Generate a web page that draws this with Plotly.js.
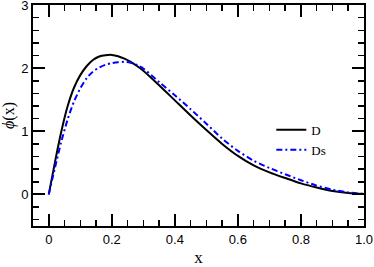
<!DOCTYPE html>
<html><head><meta charset="utf-8">
<script src="https://cdn.plot.ly/plotly-3.0.1.min.js"></script>
<style>html,body{margin:0;padding:0;background:#fff}#c{width:374px;height:267px}</style>
</head><body><div id="c"></div>
<script>
const xD = [0,0.02,0.04,0.06,0.08,0.10,0.12,0.14,0.16,0.18,0.20,0.22,0.24,0.26,0.28,0.30,0.35,0.40,0.45,0.50,0.55,0.60,0.65,0.70,0.75,0.80,0.85,0.90,0.95,1.0];
const yD = [0,0.52,1.00,1.40,1.69,1.89,2.03,2.13,2.185,2.205,2.21,2.19,2.15,2.10,2.035,1.96,1.73,1.49,1.25,1.02,0.80,0.61,0.46,0.35,0.26,0.175,0.11,0.055,0.022,0.005];
const xDs = [0,0.02,0.04,0.06,0.08,0.10,0.12,0.14,0.16,0.18,0.20,0.22,0.24,0.26,0.28,0.30,0.35,0.40,0.45,0.50,0.55,0.60,0.65,0.70,0.75,0.80,0.85,0.90,0.95,1.0];
const yDs = [0,0.43,0.84,1.19,1.47,1.68,1.84,1.945,2.01,2.055,2.08,2.095,2.10,2.085,2.05,1.995,1.78,1.57,1.35,1.12,0.885,0.69,0.535,0.42,0.32,0.225,0.14,0.075,0.032,0.008];
const xTicks = [0,0.2,0.4,0.6,0.8,1.0];
const xTickText = ["0","0.2","0.4","0.6","0.8","1.0"];
const yTicks = [0,1,2,3];
const yTickText = ["0","1","2","3"];

const traces = [
  {x:xD, y:yD, name:"D", mode:"lines", line:{color:"#000", width:2, shape:"spline", smoothing:0.8}},
  {x:xDs, y:yDs, name:"Ds", mode:"lines", line:{color:"rgb(0,0,255)", width:2, dash:"6px,3px,2px,3px", shape:"spline", smoothing:0.8}}
];
const axisCommon = {
  showline:true, linecolor:"#000", linewidth:2, mirror:"allticks",
  ticks:"inside", ticklen:12, tickwidth:2, tickcolor:"#000",
  showgrid:false, zeroline:false, ticklabeloverflow:"allow",
  tickfont:{family:"Liberation Sans, Arial, sans-serif", size:13, color:"#000"}
};
const layout = {
  width:374, height:267,
  margin:{l:33, r:10, t:5, b:41},
  paper_bgcolor:"#fff", plot_bgcolor:"#fff",
  showlegend:true,
  legend:{x:0.72, y:0.39, xanchor:"left", yanchor:"middle", bgcolor:"rgba(0,0,0,0)",
          font:{family:"Liberation Serif, Times New Roman, serif", size:13, color:"#000"}, tracegroupgap:4},
  xaxis:Object.assign({}, axisCommon, {
    range:[-0.05,1.0], tickmode:"array", tickvals:xTicks, ticktext:xTickText,
    minor:{dtick:0.05, ticks:"inside", ticklen:6, tickwidth:1.5, tickcolor:"#000"},
    title:{text:"x", font:{family:"Liberation Serif, Times New Roman, serif", size:17, color:"#000"}, standoff:10}
  }),
  yaxis:Object.assign({}, axisCommon, {
    range:[-0.5,3.0005], tickmode:"array", tickvals:yTicks, ticktext:yTickText,
    minor:{dtick:0.2, tick0:0, ticks:"inside", ticklen:6, tickwidth:1.5, tickcolor:"#000"},
    title:{text:"<i>\u03d5</i>(x)", font:{family:"Liberation Serif, Times New Roman, serif", size:16, color:"#000"}, standoff:8}
  })
};
Plotly.newPlot("c", traces, layout, {staticPlot:true, displayModeBar:false});
</script></body></html>
